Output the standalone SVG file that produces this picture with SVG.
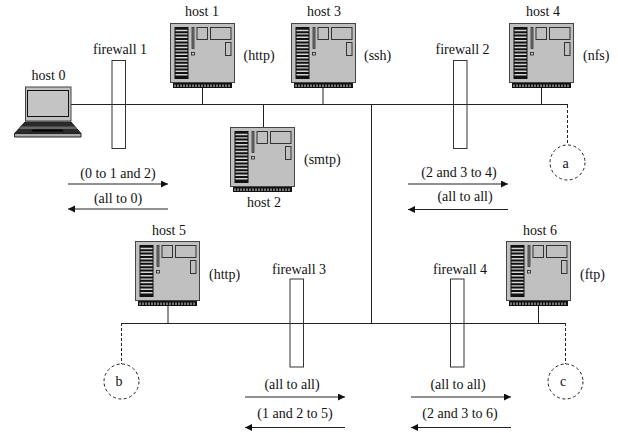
<svg xmlns="http://www.w3.org/2000/svg" xmlns:xlink="http://www.w3.org/1999/xlink" width="618" height="433" viewBox="0 0 618 433">
<style>
text{font-family:"Liberation Serif","Times New Roman",serif;font-size:14px;fill:#111}
.m{text-anchor:middle}
.w{stroke:#222;stroke-width:1;fill:none}
.d{stroke:#222;stroke-width:1;fill:none;stroke-dasharray:3 2}
.fw{fill:none;stroke:#333;stroke-width:1}
.c{fill:#fff;stroke:#222;stroke-width:1;stroke-dasharray:3 2.5}
.a{stroke:#222;stroke-width:1;fill:none;marker-end:url(#ah)}
</style>
<defs>
<marker id="ah" markerUnits="userSpaceOnUse" markerWidth="8" markerHeight="8" refX="7" refY="3.5" orient="auto"><path d="M0 0L7 3.5L0 7z" fill="#111"/></marker>
<g id="srv">
<rect x="0.5" y="0.5" width="64" height="59" fill="#c0c0c0" stroke="#444" stroke-width="1"/>
<rect x="4.5" y="4" width="14" height="52" fill="#111"/>
<path d="M5.500 7.500h12M5.500 10.900h12M5.500 14.300h12M5.500 17.700h12M5.500 21.100h12M5.500 24.500h12M5.500 27.900h12M5.500 31.300h12M5.500 34.700h12M5.500 38.100h12M5.500 41.500h12M5.500 44.900h12M5.500 48.300h12M5.500 51.700h12" stroke="#d4d4d4" stroke-width="1.400"/>
<rect x="22" y="4.500" width="2" height="21" fill="#777" stroke="#333" stroke-width="0.800"/>
<rect x="21.500" y="29.500" width="3" height="2.500" fill="#ccc" stroke="#222" stroke-width="0.800"/>
<rect x="27" y="4.500" width="10.500" height="12" fill="#c0c0c0" stroke="#333" stroke-width="1"/>
<rect x="40.500" y="4.500" width="20.500" height="12" fill="#c0c0c0" stroke="#333" stroke-width="1"/>
<rect x="55.500" y="19.500" width="5.500" height="13" fill="#c0c0c0" stroke="#333" stroke-width="1"/>
<rect x="3" y="60" width="59" height="5" fill="#111"/>
<path d="M5 61.500v2.500M8 61.500v2.500M11 61.500v2.500M14 61.500v2.500M17 61.500v2.500M20 61.500v2.500M23 61.500v2.500M26 61.500v2.500M29 61.500v2.500M32 61.500v2.500M35 61.500v2.500M38 61.500v2.500M41 61.500v2.500M44 61.500v2.500M47 61.500v2.500M50 61.500v2.500M53 61.500v2.500M56 61.500v2.500M59 61.500v2.500" stroke="#ddd" stroke-width="1"/>
</g>
</defs>
<rect width="618" height="433" fill="#fff"/>
<g id="connectors">
<path class="w" d="M71 104.500H568M121.500 323.500H565M371.500 105V323"/>
<path class="w" d="M202.500 87V105M323 87V105M263.500 105V127M541.500 87V105M168 306V323M538.500 306V323"/>
<path class="d" d="M567.500 105V145M121.500 323V364M565.500 323V364"/>
<path class="a" d="M68 184H168"/>
<path class="a" d="M168 209H68"/>
<path class="a" d="M408 184H508"/>
<path class="a" d="M508 209.500H408"/>
<path class="a" d="M245 397H345"/>
<path class="a" d="M345 427.500H245"/>
<path class="a" d="M411 397H511"/>
<path class="a" d="M511 427.500H411"/>
</g>
<g id="host0">
<rect x="25.500" y="87" width="45.500" height="34" fill="#c0c0c0" stroke="#444"/>
<rect x="27.500" y="90.500" width="41" height="26" fill="#c4c4c4" stroke="#111"/>
<path d="M25 122H71L81 133.500H14.500z" fill="#2a2a2a" stroke="#222"/>
<path d="M21.500 126.500H74.500L77 129H19z" fill="#666"/>
<path d="M33 129.500H62L64 131.500H31z" fill="#000"/>
<path d="M14.500 133.500H81V137H14.500z" fill="#aaa" stroke="#222"/>
<text class="m" x="48.500" y="79.500">host 0</text>
</g>
<g id="host1"><use xlink:href="#srv" href="#srv" x="170" y="23"/><text class="m" x="202" y="15.500">host 1</text><text x="243.500" y="60">(http)</text></g>
<g id="host2"><use xlink:href="#srv" href="#srv" x="230" y="127"/><text class="m" x="264" y="206.500">host 2</text><text x="304" y="164">(smtp)</text></g>
<g id="host3"><use xlink:href="#srv" href="#srv" x="291" y="23"/><text class="m" x="324" y="15.500">host 3</text><text x="364" y="60">(ssh)</text></g>
<g id="host4"><use xlink:href="#srv" href="#srv" x="509" y="23"/><text class="m" x="543" y="15.500">host 4</text><text x="583" y="60">(nfs)</text></g>
<g id="host5"><use xlink:href="#srv" href="#srv" x="135" y="241"/><text class="m" x="169" y="235">host 5</text><text x="209" y="279">(http)</text></g>
<g id="host6"><use xlink:href="#srv" href="#srv" x="506" y="241"/><text class="m" x="540" y="235">host 6</text><text x="580" y="279">(ftp)</text></g>
<g id="firewall1"><rect class="fw" x="112" y="60.500" width="13.500" height="88"/><text class="m" x="120" y="54">firewall 1</text></g>
<g id="firewall2"><rect class="fw" x="453.500" y="60.500" width="13.500" height="88"/><text class="m" x="462.500" y="54">firewall 2</text></g>
<g id="firewall3"><rect class="fw" x="290" y="279" width="13.500" height="88"/><text class="m" x="299" y="274">firewall 3</text></g>
<g id="firewall4"><rect class="fw" x="450.500" y="279" width="13.500" height="88"/><text class="m" x="460" y="274">firewall 4</text></g>
<g id="a"><circle class="c" cx="567.500" cy="162.500" r="17.500"/><text class="m" x="565.500" y="167.500">a</text></g>
<g id="b"><circle class="c" cx="121.500" cy="381.500" r="17.500"/><text class="m" x="119" y="385.500">b</text></g>
<g id="c"><circle class="c" cx="565.500" cy="381.500" r="17.500"/><text class="m" x="563" y="385.500">c</text></g>
<g id="labels">
<text class="m" x="118" y="178">(0 to 1 and 2)</text>
<text class="m" x="118" y="203">(all to 0)</text>
<text class="m" x="459" y="177">(2 and 3 to 4)</text>
<text class="m" x="465" y="201">(all to all)</text>
<text class="m" x="292" y="389">(all to all)</text>
<text class="m" x="295" y="418">(1 and 2 to 5)</text>
<text class="m" x="458" y="389">(all to all)</text>
<text class="m" x="460" y="418">(2 and 3 to 6)</text>
</g>
</svg>
